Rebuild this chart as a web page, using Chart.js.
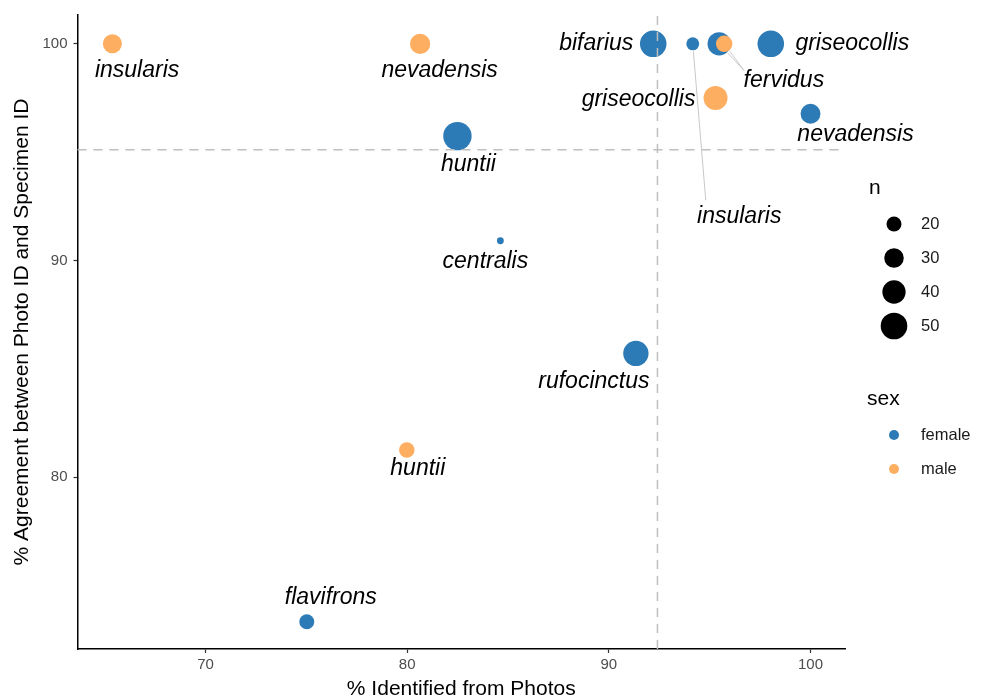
<!DOCTYPE html>
<html>
<head>
<meta charset="utf-8">
<script src="https://cdn.jsdelivr.net/npm/chart.js@4.4.1/dist/chart.umd.min.js"></script>
<style>html,body{margin:0;padding:0;background:#fff;}canvas{display:block;}</style>
</head>
<body>
<canvas id="c" width="982" height="700"></canvas>
<script>
// ---------- data ----------
const femaleSpecies = ['bifarius','insularis','fervidus','griseocollis','nevadensis','huntii','centralis','rufocinctus','flavifrons'];
const femaleX = [92.2, 94.16, 95.47, 98.03, 100, 82.49, 84.62, 91.34, 75.02];
const femaleY = [100, 100, 100, 100, 96.77, 95.74, 90.91, 85.71, 73.33];
const femaleN = [50, 16, 40, 50, 31, 56, 7, 46, 20];

const maleSpecies = ['insularis','nevadensis','fervidus','griseocollis','huntii'];
const maleX = [65.38, 80.64, 95.72, 95.29, 79.98];
const maleY = [100, 100, 100, 97.5, 81.25];
const maleN = [29, 32, 23, 42, 21];

const xTicks = [70, 80, 90, 100];
const yTicks = [80, 90, 100];
const sizeLegendValues = [20, 30, 40, 50];
const sexLevels = ['female', 'male'];
const refX = 92.41;   // vertical dashed reference
const refY = 95.11;   // horizontal dashed reference

// ---------- styles / layout ----------
const COLORS = { female: '#2C7BB6', male: '#FDAE61' };
function radiusFor(n) { return Math.max(2.5, -2.47 + 2.23 * Math.sqrt(n)); }

// label placement relative to the point centre (px): [dx, dy, showText, segEndDx, segEndDy]
const femaleLabelLayout = [
  [-57, 0, true],
  [46.5, 172.5, true, 13, 156.5],
  [64.7, 36.5, true, 24.7, 26.5],
  [81.5, 0, true],
  [45, 21, true],
  [11, 28, true],
  [-15, 21, true],
  [-42, 28, true],
  [24, -24, true]
];
const maleLabelLayout = [
  [24.7, 26.5, true],
  [19.5, 26.5, true],
  [59.7, 36.5, false, 19.7, 26.5],
  [-77, 2, true],
  [11, 19, true]
];

const FONT = '"Liberation Sans", Arial, Helvetica, sans-serif';

const pts = (xs, ys) => xs.map((v, i) => ({ x: v, y: ys[i] }));

const overlay = {
  id: 'overlay',
  afterDatasetsDraw(chart) {
    const { ctx, chartArea: a, scales: { x, y } } = chart;
    // reference lines
    ctx.save();
    ctx.strokeStyle = '#BEBEBE';
    ctx.lineWidth = 1.5;
    ctx.setLineDash([9, 7]);
    const px = x.getPixelForValue(refX);
    ctx.beginPath(); ctx.moveTo(px, a.bottom); ctx.lineTo(px, a.top); ctx.stroke();
    const py = y.getPixelForValue(refY);
    ctx.beginPath(); ctx.moveTo(a.left, py); ctx.lineTo(a.right, py); ctx.stroke();
    ctx.restore();

    // labels + segments
    const groups = [
      { meta: chart.getDatasetMeta(0), names: femaleSpecies, layout: femaleLabelLayout, ns: femaleN },
      { meta: chart.getDatasetMeta(1), names: maleSpecies, layout: maleLabelLayout, ns: maleN }
    ];
    ctx.save();
    groups.forEach(g => {
      g.meta.data.forEach((el, i) => {
        const L = g.layout[i];
        const cx = el.x, cy = el.y;
        if (L.length > 3) {
          const ex = cx + L[3], ey = cy + L[4];
          const ang = Math.atan2(ey - cy, ex - cx);
          const r = radiusFor(g.ns[i]) + 1;
          ctx.strokeStyle = '#C8C8C8';
          ctx.lineWidth = 1;
          ctx.setLineDash([]);
          ctx.beginPath();
          ctx.moveTo(cx + Math.cos(ang) * r, cy + Math.sin(ang) * r);
          ctx.lineTo(ex, ey);
          ctx.stroke();
        }
        if (L[2]) {
          ctx.font = 'italic 23px ' + FONT;
          ctx.fillStyle = '#000';
          ctx.textAlign = 'center';
          ctx.textBaseline = 'middle';
          ctx.fillText(g.names[i], cx + L[0], cy + L[1]);
        }
      });
    });
    ctx.restore();
  },
  afterDraw(chart) {
    const { ctx } = chart;
    ctx.save();
    ctx.textAlign = 'left';
    ctx.textBaseline = 'middle';
    ctx.fillStyle = '#000';
    ctx.font = '21px ' + FONT;
    ctx.fillText('n', 869, 188);
    sizeLegendValues.forEach((v, i) => {
      const cy = 224 + i * 34;
      ctx.fillStyle = '#000';
      ctx.beginPath(); ctx.arc(894, cy, radiusFor(v), 0, Math.PI * 2); ctx.fill();
      ctx.font = '16.5px ' + FONT;
      ctx.fillStyle = '#1A1A1A';
      ctx.fillText(String(v), 921, cy);
    });
    ctx.fillStyle = '#000';
    ctx.font = '21px ' + FONT;
    ctx.fillText('sex', 867, 399);
    sexLevels.forEach((s, i) => {
      const cy = 435 + i * 34;
      ctx.fillStyle = COLORS[s];
      ctx.beginPath(); ctx.arc(894, cy, 5, 0, Math.PI * 2); ctx.fill();
      ctx.font = '16.5px ' + FONT;
      ctx.fillStyle = '#1A1A1A';
      ctx.fillText(s, 921, cy);
    });
    ctx.restore();
  }
};

new Chart(document.getElementById('c'), {
  type: 'scatter',
  data: {
    datasets: [
      {
        label: 'female', data: pts(femaleX, femaleY), order: 2,
        backgroundColor: COLORS.female, borderColor: COLORS.female, borderWidth: 0,
        pointRadius: c => radiusFor(femaleN[c.dataIndex]), pointHoverRadius: c => radiusFor(femaleN[c.dataIndex])
      },
      {
        label: 'male', data: pts(maleX, maleY), order: 1,
        backgroundColor: COLORS.male, borderColor: COLORS.male, borderWidth: 0,
        pointRadius: c => radiusFor(maleN[c.dataIndex]), pointHoverRadius: c => radiusFor(maleN[c.dataIndex])
      }
    ]
  },
  options: {
    responsive: false,
    animation: false,
    devicePixelRatio: 1,
    layout: { padding: { top: 12.7, right: 137, left: 0, bottom: 0 } },
    plugins: { legend: { display: false }, tooltip: { enabled: false } },
    scales: {
      x: {
        type: 'linear', min: 63.65, max: 101.71,
        afterBuildTicks: s => { s.ticks = xTicks.map(v => ({ value: v })); },
        afterFit: s => { s.height = 51; },
        grid: { drawOnChartArea: false, drawTicks: true, tickLength: 4, tickColor: '#333', tickWidth: 1.2 },
        border: { display: true, color: '#000', width: 1.5 },
        ticks: { color: '#4D4D4D', font: { family: FONT, size: 15 }, padding: 3 },
        title: { display: true, text: '% Identified from Photos', color: '#000',
                 font: { family: FONT, size: 21, lineHeight: 1 }, padding: { top: 0, bottom: 0.5 } }
      },
      y: {
        type: 'linear', min: 72.07, max: 101.33,
        afterBuildTicks: s => { s.ticks = yTicks.map(v => ({ value: v })); },
        afterFit: s => { s.width = 77.5; },
        grid: { drawOnChartArea: false, drawTicks: true, tickLength: 4, tickColor: '#333', tickWidth: 1.2 },
        border: { display: true, color: '#000', width: 1.5 },
        ticks: { color: '#4D4D4D', font: { family: FONT, size: 15 }, padding: 6 },
        title: { display: true, text: '% Agreement between Photo ID and Specimen ID', color: '#000',
                 font: { family: FONT, size: 21, lineHeight: 1 }, padding: { top: 11.5, bottom: 0 } }
      }
    }
  },
  plugins: [overlay]
});
</script>
</body>
</html>
